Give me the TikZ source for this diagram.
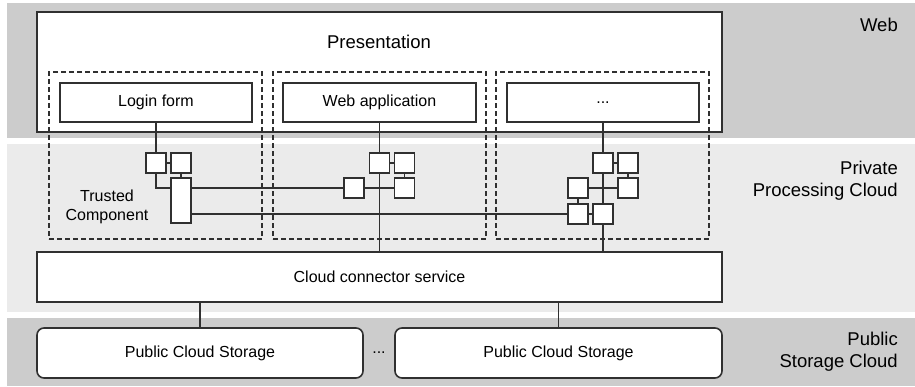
\documentclass[tikz,border=0pt]{standalone}
\usepackage{fontspec}
\setmainfont{Liberation Sans}
\definecolor{bandDark}{HTML}{CCCCCC}
\definecolor{bandLight}{HTML}{EBEBEB}
\definecolor{edgeGray}{HTML}{303030}

\begin{document}
\begin{tikzpicture}[x=1pt, y=-1pt,
        box/.style={draw=edgeGray, line width=1.6pt, fill=white, inner sep=0pt},
        sq/.style={box, minimum size=20pt},
        group/.style={draw=edgeGray, line width=1.3pt, dash pattern=on 5pt off 3pt, minimum width=213pt, minimum height=167pt},
        wire/.style={draw=edgeGray, line width=1.5pt},
        txt/.style={font=\fontsize{16}{19}\selectfont},
        bigtxt/.style={font=\fontsize{18.5}{22}\selectfont},
        bandtxt/.style={bigtxt, align=right, anchor=east, inner sep=0pt}]
        \useasboundingbox (0,0) rectangle (915,386);
        \fill[bandDark] (7,3) rectangle (915,138);
        \fill[bandLight] (7,144) rectangle (915,312);
        \fill[bandDark] (7,318) rectangle (915,386);

        \node[bandtxt] (web) at (898,25) {Web};
        \node[bandtxt] (priv) at (898,181) {Private\\Processing Cloud};
        \node[bandtxt] (pub) at (898,352) {Public\\Storage Cloud};

        \node[box, minimum width=685pt, minimum height=120pt] (pres) at (379.5,72) {};
        \node[bigtxt] (presl) at (379,42) {Presentation};

        \node[box, txt, minimum width=192pt, minimum height=39pt] (login) at (156,102.5) {Login form};
        \node[box, txt, minimum width=193pt, minimum height=39pt] (webapp) at (379.5,102.5) {Web application};
        \node[box, txt, minimum width=192pt, minimum height=39pt] (dots) at (603,102.5) {...};

        \node[group] (g1) at (155.5,155.5) {};
        \node[group] (g2) at (379.5,155.5) {};
        \node[group] (g3) at (602.5,155.5) {};

        \node[txt, align=center] (tclabel) at (107,207) {Trusted\\Component};

        \node[sq] (a1) at (156,163) {};
        \node[sq] (a2) at (181,163) {};
        \node[box, minimum width=20pt, minimum height=45pt] (tc) at (181,200.5) {};
        \node[sq] (b1) at (379.5,163) {};
        \node[sq] (b2) at (404.5,163) {};
        \node[sq] (b3) at (404.5,188) {};
        \node[sq] (b4) at (354,188) {};
        \node[sq] (c1) at (603,163) {};
        \node[sq] (c2) at (628,163) {};
        \node[sq] (c3) at (628,188) {};
        \node[sq] (c4) at (578,188) {};
        \node[sq] (c5) at (578,214) {};
        \node[sq] (c6) at (603,214) {};

        \node[box, txt, minimum width=685pt, minimum height=50pt] (ccs) at (379.5,277) {Cloud connector service};
        \node[box, txt, rounded corners=7pt, minimum width=326pt, minimum height=50pt] (st1) at (200,353) {Public Cloud Storage};
        \node[box, txt, rounded corners=7pt, minimum width=327pt, minimum height=50pt] (st2) at (558.5,353) {Public Cloud Storage};
        \node[txt] (more) at (379,353) {...};

        \draw[wire] (login) -- (a1);
        \draw[wire] (a1) -- (a2);
        \draw[wire] (a2) -- (tc);
        \draw[wire] (a1.south) |- (tc.west |- b4.west);
        \draw[wire] (tc.east |- b4.west) -- (b4.west);
        \draw[wire] (b4) -- (b3);
        \draw[wire] (tc.east |- c5.west) -- (c5.west);

        \draw[wire] (webapp) -- (b1);
        \draw[wire] (b1) -- (b2);
        \draw[wire] (b2) -- (b3);
        \draw[wire] (b1.south) -- (b1.south |- ccs.north);

        \draw[wire] (dots) -- (c1);
        \draw[wire] (c1) -- (c2);
        \draw[wire] (c2) -- (c3);
        \draw[wire] (c4) -- (c3);
        \draw[wire] (c4) -- (c5);
        \draw[wire] (c5) -- (c6);
        \draw[wire] (c1) -- (c6);
        \draw[wire] (c6.south) -- (c6.south |- ccs.north);

        \draw[wire] (st1.north |- ccs.south) -- (st1.north);
        \draw[wire] (st2.north |- ccs.south) -- (st2.north);
    \end{tikzpicture}
\end{document}
